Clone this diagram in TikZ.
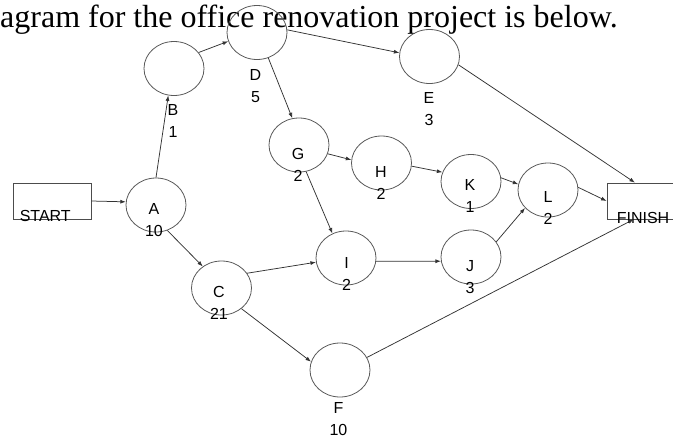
\documentclass[tikz,border=0pt]{standalone}
\usepackage{fontspec}
\setmainfont{Liberation Serif}
\newfontfamily\arialfont{Liberation Sans}
\usetikzlibrary{positioning,shapes.geometric,arrows.meta}

\begin{document}
\begin{tikzpicture}[x=1pt, y=-1pt,
    event/.style={ellipse, draw=black!65, line width=0.8pt, minimum width=60pt, minimum height=54pt, inner sep=0pt},
    endbox/.style={rectangle, draw=black!70, line width=0.8pt, minimum width=78pt, minimum height=36pt, inner sep=0pt},
    tag/.style={font=\arialfont\fontsize{16}{22}\selectfont, align=center, inner sep=0pt},
    flow/.style={draw=black!80, line width=0.75pt, -{Latex[length=5.5pt,width=4pt]}}]

    \useasboundingbox (0,0) rectangle (673,440);

    \node[anchor=base west, inner sep=0pt, font=\fontsize{32}{36}\selectfont] (title) at (0,27) {agram for the office renovation project is below.};

    \node[endbox] (start) at (52,201) {};
    \node[endbox] (finish) at (646,201) {};
    \node[tag, anchor=base west] (tstart) at ([shift={(7,38.7)}]start.north west) {START};
    \node[tag, anchor=base west] (tfinish) at ([shift={(10,41)}]finish.north west) {FINISH};

    \node[event] (a) at (156,205) {};
    \node[event] (b) at (174,68.5) {};
    \node[event] (c) at (221.5,288) {};
    \node[event] (d) at (257,32.5) {};
    \node[event] (e) at (429.5,56.5) {};
    \node[event] (f) at (340,370) {};
    \node[event] (g) at (299,145) {};
    \node[event] (h) at (381.5,163) {};
    \node[event] (i) at (346,258) {};
    \node[event] (j) at (471,257) {};
    \node[event] (k) at (471,181.5) {};
    \node[event] (l) at (548,190) {};

    \node[tag] (la) at (154,220) {A\\10};
    \node[tag] (lb) at (173,120.5) {B\\1};
    \node[tag] (lc) at (219,302.5) {C\\21};
    \node[tag] (ld) at (255.5,86) {D\\5};
    \node[tag] (le) at (429,109) {E\\3};
    \node[tag] (lf) at (338.5,419.5) {F\\10};
    \node[tag] (lg) at (298,164.5) {G\\2};
    \node[tag] (lh) at (381,183) {H\\2};
    \node[tag] (li) at (346.5,274) {I\\2};
    \node[tag] (lj) at (470,277) {J\\3};
    \node[tag] (lk) at (470,196) {K\\1};
    \node[tag] (ll) at (548,207.5) {L\\2};

    \draw[flow] (start.east) -- (a.174);
    \draw[flow] (a.90) -- (b.-102);
    \draw[flow] (a.-66) -- (c.131);
    \draw[flow] (b.33) -- (d.197);
    \draw[flow] (d.5) -- (e.173);
    \draw[flow] (d.-66) -- (g.104);
    \draw[flow] (e.-16) -- (finish.121);
    \draw[flow] (c.30) -- (i.188);
    \draw[flow] (c.-46) -- (f.164);
    \draw[flow] (f.25) -- (finish.-124);
    \draw[flow] (g.-17) -- (h.174);
    \draw[flow] (g.-75) -- (i.119);
    \draw[flow] (h.-6) -- (k.162);
    \draw[flow] (k.7) -- (l.169);
    \draw[flow] (i.-6) -- (j.188);
    \draw[flow] (j.31) -- (l.218);
    \draw[flow] (l.5) -- (finish.west);
\end{tikzpicture}
\end{document}
